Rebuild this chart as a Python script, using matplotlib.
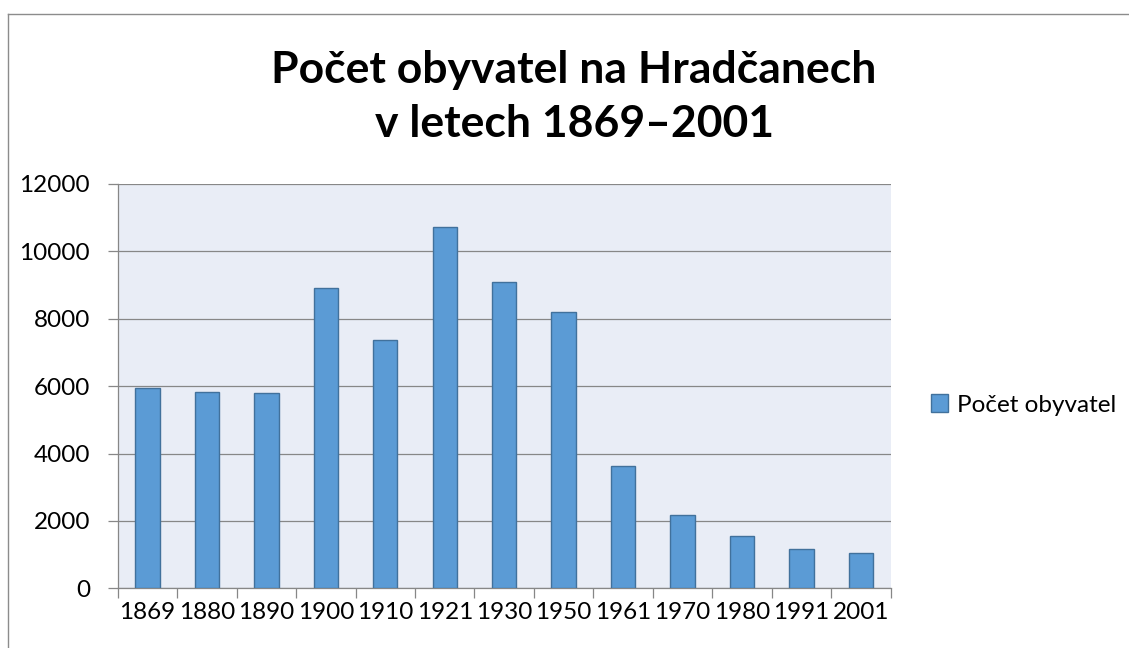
import matplotlib
matplotlib.use("Agg")
import matplotlib.pyplot as plt
from matplotlib.lines import Line2D
from matplotlib.patches import Patch

plt.rcParams['font.family'] = ['Lato', 'DejaVu Sans']

years = ['1869', '1880', '1890', '1900', '1910', '1921', '1930', '1950',
         '1961', '1970', '1980', '1991', '2001']
population = [5935, 5826, 5806, 8912, 7359, 10732, 9100, 8210,
              3620, 2166, 1543, 1157, 1039]
yticks = [0, 2000, 4000, 6000, 8000, 10000, 12000]
series_name = 'Počet obyvatel'
title = 'Počet obyvatel na Hradčanech\nv letech 1869–2001'

W, H = 1129, 648
fig = plt.figure(figsize=(W / 100, H / 100), dpi=100)
fig.patch.set_facecolor('white')

ax = fig.add_axes([117.7 / W, 1 - 588.3 / H, (890.7 - 117.7) / W, (588.3 - 184) / H])
ax.set_facecolor('#E9EDF6')

x = list(range(len(years)))
ax.bar(x, population, width=0.41, color='#5B9BD5', edgecolor='#41719C',
       linewidth=1.0, zorder=3)

ax.set_xlim(-0.5, len(years) - 0.5)
ax.set_ylim(0, 12000)
ax.set_yticks(yticks)
ax.set_yticklabels([str(v) for v in yticks], fontsize=17.5)
ax.yaxis.grid(True, color='#878787', linewidth=0.9, zorder=1)
ax.set_axisbelow(True)

ax.set_xticks(x)
ax.set_xticklabels(years, fontsize=17.5)
ax.set_xticks([i - 0.5 for i in range(len(years) + 1)], minor=True)
ax.tick_params(axis='x', which='major', length=0, pad=10)
ax.tick_params(axis='x', which='minor', length=7, color='#878787', width=0.9)
ax.tick_params(axis='y', which='major', length=7, color='#878787', width=0.9, pad=13)

for s in ['top', 'right']:
    ax.spines[s].set_visible(False)
for s in ['left', 'bottom']:
    ax.spines[s].set_color('#878787')
    ax.spines[s].set_linewidth(0.9)

fig.text(574 / W, 1 - 97 / H, title, ha='center', va='center',
         fontsize=32, fontweight='bold', linespacing=1.4)

handle = Patch(facecolor='#5B9BD5', edgecolor='#41719C', linewidth=1.0)
fig.legend([handle], [series_name], loc='center left',
           bbox_to_anchor=(931 / W, 1 - 405 / H), frameon=False,
           fontsize=17.5, handlelength=0.7, handleheight=0.7, handletextpad=0.35,
           borderpad=0, borderaxespad=0)

fig.add_artist(Line2D([7.5 / W, 1], [1 - 13.5 / H, 1 - 13.5 / H],
                      transform=fig.transFigure, color='#8C8C8C', linewidth=1.0))
fig.add_artist(Line2D([7.5 / W, 7.5 / W], [0, 1 - 13.5 / H],
                      transform=fig.transFigure, color='#8C8C8C', linewidth=1.0))

fig.savefig('out.png', dpi=100)
